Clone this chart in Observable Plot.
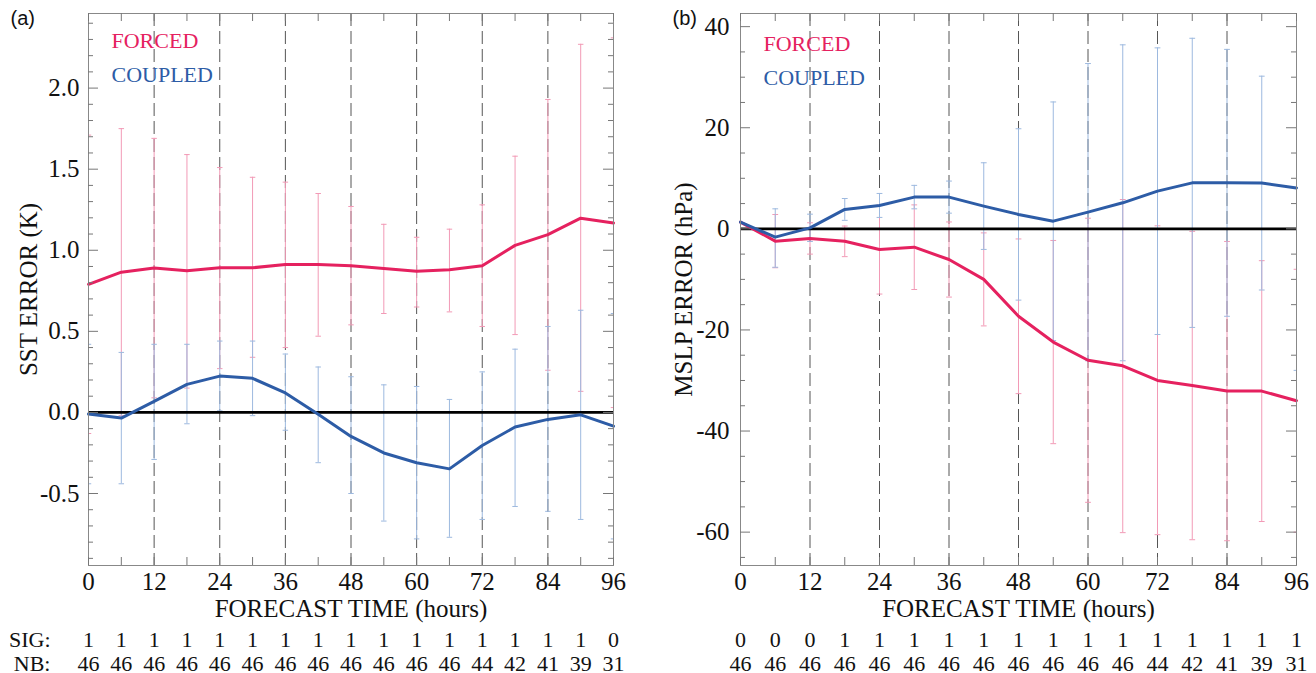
<!DOCTYPE html>
<html>
<head>
<meta charset="utf-8">
<script src="https://cdn.jsdelivr.net/npm/d3@7"></script>
<script src="https://cdn.jsdelivr.net/npm/@observablehq/plot@0.6"></script>
<style>
  html, body { margin: 0; padding: 0; background: #fff; }
  #wrap { display: flex; flex-direction: row; width: 1316px; height: 673px; }
</style>
</head>
<body>
<div id="wrap"></div>
<script>
// ---------- data ----------
const hours = [0, 6, 12, 18, 24, 30, 36, 42, 48, 54, 60, 66, 72, 78, 84, 90, 96];
const xLabels = [0, 12, 24, 36, 48, 60, 72, 84, 96];
const gridHours = [12, 24, 36, 48, 60, 72, 84];

// (a) SST error (K)
const sstForced   = [0.79, 0.865, 0.89, 0.873, 0.892, 0.892, 0.912, 0.912, 0.904, 0.888, 0.871, 0.88, 0.905, 1.03, 1.096, 1.198, 1.168];
const sstForcedHi = [1.71, 1.75, 1.69, 1.59, 1.51, 1.45, 1.42, 1.35, 1.27, 1.16, 1.08, 1.13, 1.28, 1.58, 1.93, 2.27, 2.31];
const sstForcedLo = [-0.13, -0.02, 0.09, 0.15, 0.27, 0.34, 0.40, 0.47, 0.54, 0.61, 0.65, 0.62, 0.53, 0.48, 0.26, 0.13, 0.03];
const sstCoupled   = [-0.01, -0.035, 0.068, 0.173, 0.224, 0.21, 0.12, -0.012, -0.148, -0.25, -0.31, -0.348, -0.204, -0.09, -0.043, -0.015, -0.085];
const sstCoupledHi = [0.42, 0.37, 0.42, 0.42, 0.44, 0.44, 0.36, 0.28, 0.22, 0.17, 0.16, 0.08, 0.25, 0.39, 0.53, 0.63, 0.61];
const sstCoupledLo = [-0.44, -0.44, -0.29, -0.07, 0.01, -0.02, -0.11, -0.31, -0.50, -0.67, -0.78, -0.77, -0.66, -0.58, -0.61, -0.66, -0.78];
const sstSig = [1, 1, 1, 1, 1, 1, 1, 1, 1, 1, 1, 1, 1, 1, 1, 1, 0];
const sstNb  = [46, 46, 46, 46, 46, 46, 46, 46, 46, 46, 46, 46, 44, 42, 41, 39, 31];
const sstMajor = [-0.5, 0, 0.5, 1.0, 1.5, 2.0];
const sstMinor = [-0.9, -0.8, -0.7, -0.6, -0.4, -0.3, -0.2, -0.1, 0.1, 0.2, 0.3, 0.4, 0.6, 0.7, 0.8, 0.9, 1.1, 1.2, 1.3, 1.4, 1.6, 1.7, 1.8, 1.9, 2.1, 2.2, 2.3, 2.4];

// (b) MSLP error (hPa)
const slpForced   = [1.33, -2.44, -1.91, -2.44, -4.09, -3.63, -6.07, -10.0, -17.3, -22.4, -26.0, -27.1, -30.0, -31.0, -32.1, -32.1, -34.0];
const slpForcedHi = [null, 2.84, 1.2, 0.55, 4.7, 4.74, 1.36, -0.8, -2.0, -2.3, 2.1, 5.8, 0.6, -0.5, -2.5, -6.3, -8.0];
const slpForcedLo = [null, -7.7, -5.0, -5.5, -12.9, -12.0, -13.5, -19.2, -32.6, -42.5, -54.1, -60.1, -60.5, -61.5, -61.7, -57.9, -60.0];
const slpCoupled   = [1.33, -1.64, 0.2, 3.84, 4.63, 6.28, 6.28, 4.5, 2.85, 1.52, 3.3, 5.15, 7.46, 9.1, 9.1, 9.05, 8.1];
const slpCoupledHi = [null, 3.96, 2.9, 6.0, 7.0, 8.6, 9.45, 13.07, 19.8, 25.1, 32.7, 36.4, 35.8, 37.7, 35.5, 30.2, 44.0];
const slpCoupledLo = [null, -7.6, -2.5, 1.68, 2.26, 3.96, 3.1, -4.07, -14.1, -22.1, -26.1, -26.1, -20.9, -19.5, -17.3, -12.1, -28.0];
const slpSig = [0, 0, 0, 1, 1, 1, 1, 1, 1, 1, 1, 1, 1, 1, 1, 1, 1];
const slpNb  = [46, 46, 46, 46, 46, 46, 46, 46, 46, 46, 46, 46, 44, 42, 41, 39, 31];
const slpMajor = [-60, -40, -20, 0, 20, 40];
const slpMinor = [-65, -55, -50, -45, -35, -30, -25, -15, -10, -5, 5, 10, 15, 25, 30, 35];

// ---------- styles ----------
const PINK = "#e5215f";
const BLUE = "#2d5ca6";
const PINK_BAR = "#f29ab6";
const BLUE_BAR = "#9db9df";
const SERIF = "'Liberation Serif', 'Times New Roman', serif";
const SANS = "'Liberation Sans', Arial, sans-serif";
const AX = 25;     // axis text size
const LEG = 22;    // legend text size
const TAB = 22;    // table text size

function panel(cfg) {
  const H = 673, mt = 13, mb = 108;
  const plotW = cfg.width - cfg.marginLeft - cfg.marginRight;
  const plotH = H - mt - mb;
  const rows = (mean, lo, hi) => hours.map((h, i) => ({h, m: mean[i], lo: lo[i], hi: hi[i]})).filter(d => d.lo != null && d.hi != null);
  const fRows = rows(cfg.forced, cfg.forcedLo, cfg.forcedHi);
  const cRows = rows(cfg.coupled, cfg.coupledLo, cfg.coupledHi);
  const bars = (data, stroke) => [
    Plot.ruleX(data, {x: "h", y1: "lo", y2: "hi", stroke, strokeWidth: 1, clip: true}),
    Plot.link(data, {x1: d => d.h - 0.5, x2: d => d.h + 0.5, y1: "lo", y2: "lo", stroke, strokeWidth: 1, clip: true}),
    Plot.link(data, {x1: d => d.h - 0.5, x2: d => d.h + 0.5, y1: "hi", y2: "hi", stroke, strokeWidth: 1, clip: true})
  ];
  const marks = [
    Plot.ruleX(gridHours, {x: d => d, stroke: "#555", strokeWidth: 1, strokeDasharray: "13,5"}),
    ...bars(fRows, PINK_BAR),
    ...bars(cRows, BLUE_BAR),
    Plot.ruleY([0], {y: d => d, stroke: "#000", strokeWidth: 2.6}),
    Plot.line(hours, {x: d => d, y: (d, i) => cfg.forced[i], stroke: PINK, strokeWidth: 3}),
    Plot.line(hours, {x: d => d, y: (d, i) => cfg.coupled[i], stroke: BLUE, strokeWidth: 3}),
    Plot.frame({stroke: "#888", strokeWidth: 1}),
    // x ticks (bottom and top, inward)
    Plot.tickX(hours, {x: d => d, insetTop: plotH - 8, stroke: "#777"}),
    Plot.tickX(hours, {x: d => d, insetBottom: plotH - 8, stroke: "#777"}),
    // y ticks (left and right, inward)
    Plot.tickY(cfg.major, {y: d => d, insetRight: plotW - 10, stroke: "#777"}),
    Plot.tickY(cfg.major, {y: d => d, insetLeft: plotW - 10, stroke: "#777"}),
    Plot.tickY(cfg.minor, {y: d => d, insetRight: plotW - 5, stroke: "#777"}),
    Plot.tickY(cfg.minor, {y: d => d, insetLeft: plotW - 5, stroke: "#777"}),
    Plot.axisX(xLabels, {tickSize: 0, tickPadding: 7, fontSize: AX, label: null, tickFormat: d => String(d)}),
    Plot.axisY(cfg.major, {tickSize: 0, tickPadding: cfg.yPad, fontSize: AX, label: null, tickFormat: cfg.fmt}),
    Plot.text(["FORECAST TIME (hours)"], {text: d => d, frameAnchor: "bottom", dy: 43, fontSize: AX, textAnchor: "middle", lineAnchor: "middle"}),
    Plot.text([cfg.ylabel], {text: d => d, frameAnchor: "left", dx: cfg.ylabelDx, rotate: -90, fontSize: AX, textAnchor: "middle", lineAnchor: "middle"}),
    Plot.text(["FORCED"], {text: d => d, frameAnchor: "top-left", dx: 23, dy: cfg.legendDy, fill: PINK, fontSize: LEG, textAnchor: "start", lineAnchor: "middle"}),
    Plot.text(["COUPLED"], {text: d => d, frameAnchor: "top-left", dx: 23, dy: cfg.legendDy + 34, fill: BLUE, fontSize: LEG, textAnchor: "start", lineAnchor: "middle"}),
    Plot.text([cfg.tag], {text: d => d, frameAnchor: "top-left", dx: cfg.tagDx, dy: 5, fontFamily: SANS, fontSize: 20, textAnchor: "start", lineAnchor: "middle"}),
    Plot.text(hours, {x: d => d, text: (d, i) => String(cfg.sig[i]), frameAnchor: "bottom", dy: 74, fontSize: TAB, textAnchor: "middle", lineAnchor: "middle"}),
    Plot.text(hours, {x: d => d, text: (d, i) => String(cfg.nb[i]), frameAnchor: "bottom", dy: 98, fontSize: TAB, textAnchor: "middle", lineAnchor: "middle"})
  ];
  if (cfg.rowLabels) {
    marks.push(Plot.text(["SIG:"], {text: d => d, frameAnchor: "bottom-left", dx: -38, dy: 74, fontSize: TAB, textAnchor: "end", lineAnchor: "middle"}));
    marks.push(Plot.text(["NB:"], {text: d => d, frameAnchor: "bottom-left", dx: -38, dy: 98, fontSize: TAB, textAnchor: "end", lineAnchor: "middle"}));
  }
  return Plot.plot({
    width: cfg.width,
    height: H,
    marginTop: mt,
    marginBottom: mb,
    marginLeft: cfg.marginLeft,
    marginRight: cfg.marginRight,
    x: {domain: [0, 96]},
    y: {domain: cfg.yDomain},
    style: {fontFamily: SERIF, fontSize: "21px", background: "#fff", color: "#111", overflow: "visible"},
    marks
  });
}

const wrap = document.getElementById("wrap");
wrap.appendChild(panel({
  width: 658, marginLeft: 88, marginRight: 45, yDomain: [-0.944, 2.46], yPad: 9,
  major: sstMajor, minor: sstMinor, fmt: d => d.toFixed(1),
  forced: sstForced, forcedLo: sstForcedLo, forcedHi: sstForcedHi,
  coupled: sstCoupled, coupledLo: sstCoupledLo, coupledHi: sstCoupledHi,
  sig: sstSig, nb: sstNb, tag: "(a)", tagDx: -78, ylabel: "SST ERROR (K)", ylabelDx: -60,
  legendDy: 27, rowLabels: true
}));
wrap.appendChild(panel({
  width: 658, marginLeft: 82, marginRight: 20, yDomain: [-66.6, 42.6], yPad: 11,
  major: slpMajor, minor: slpMinor, fmt: d => String(d),
  forced: slpForced, forcedLo: slpForcedLo, forcedHi: slpForcedHi,
  coupled: slpCoupled, coupledLo: slpCoupledLo, coupledHi: slpCoupledHi,
  sig: slpSig, nb: slpNb, tag: "(b)", tagDx: -68, ylabel: "MSLP ERROR (hPa)", ylabelDx: -57,
  legendDy: 30, rowLabels: false
}));
</script>
</body>
</html>
